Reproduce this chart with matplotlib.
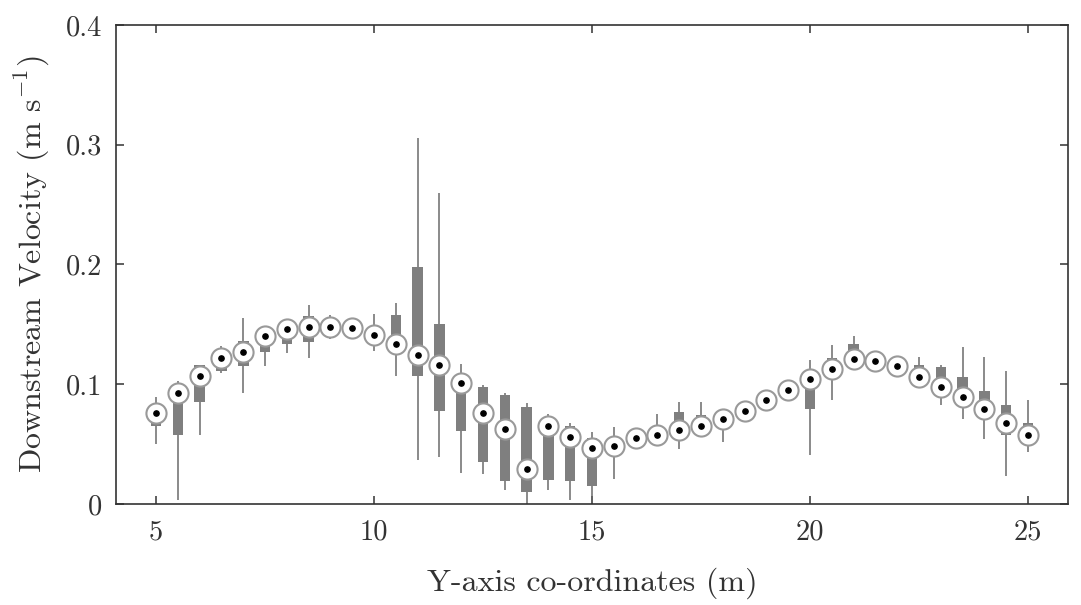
import numpy as np
import matplotlib
matplotlib.use('Agg')
import matplotlib.pyplot as plt

# cross-stream positions (m)
positions = [5.0, 5.5, 6.0, 6.5, 7.0, 7.5, 8.0, 8.5, 9.0, 9.5,
             10.0, 10.5, 11.0, 11.5, 12.0, 12.5, 13.0, 13.5, 14.0, 14.5,
             15.0, 15.5, 16.0, 16.5, 17.0, 17.5, 18.0, 18.5, 19.0, 19.5,
             20.0, 20.5, 21.0, 21.5, 22.0, 22.5, 23.0, 23.5, 24.0, 24.5, 25.0]

medians = [0.076, 0.093, 0.107, 0.122, 0.127, 0.140, 0.146, 0.148, 0.148, 0.147,
           0.141, 0.134, 0.124, 0.116, 0.101, 0.076, 0.063, 0.029, 0.065, 0.056,
           0.047, 0.048, 0.055, 0.058, 0.062, 0.065, 0.071, 0.078, 0.087, 0.095,
           0.104, 0.113, 0.121, 0.119, 0.115, 0.106, 0.098, 0.089, 0.079, 0.068, 0.058]

q1 = [0.065, 0.058, 0.085, 0.111, 0.115, 0.127, 0.134, 0.135, 0.144, 0.144,
      0.137, 0.130, 0.107, 0.078, 0.061, 0.035, 0.019, 0.010, 0.020, 0.019,
      0.015, 0.040, 0.052, 0.055, 0.058, 0.062, 0.063, 0.075, 0.084, 0.092,
      0.079, 0.110, 0.118, 0.116, 0.112, 0.102, 0.095, 0.085, 0.075, 0.058, 0.055]

q3 = [0.082, 0.095, 0.116, 0.125, 0.136, 0.142, 0.148, 0.157, 0.151, 0.149,
      0.144, 0.158, 0.198, 0.150, 0.102, 0.098, 0.091, 0.081, 0.066, 0.065,
      0.055, 0.050, 0.057, 0.060, 0.077, 0.074, 0.073, 0.080, 0.089, 0.097,
      0.105, 0.122, 0.134, 0.121, 0.117, 0.116, 0.114, 0.106, 0.094, 0.083, 0.068]

whisk_lo = [0.050, 0.003, 0.058, 0.109, 0.093, 0.115, 0.126, 0.122, 0.138, 0.141,
            0.128, 0.107, 0.037, 0.039, 0.026, 0.025, 0.012, 0.000, 0.012, 0.003,
            0.007, 0.021, 0.050, 0.048, 0.046, 0.057, 0.052, 0.072, 0.080, 0.088,
            0.041, 0.087, 0.117, 0.114, 0.110, 0.100, 0.083, 0.071, 0.054, 0.023, 0.043]

whisk_hi = [0.089, 0.103, 0.116, 0.132, 0.155, 0.148, 0.151, 0.166, 0.158, 0.152,
            0.159, 0.168, 0.306, 0.260, 0.117, 0.099, 0.093, 0.084, 0.075, 0.068,
            0.060, 0.064, 0.060, 0.075, 0.085, 0.085, 0.078, 0.084, 0.093, 0.101,
            0.120, 0.133, 0.140, 0.124, 0.120, 0.123, 0.116, 0.131, 0.123, 0.111, 0.087]

y_ticks = [0, 0.1, 0.2, 0.3, 0.4]
y_tick_labels = ['0', '0.1', '0.2', '0.3', '0.4']
x_ticks = [5, 10, 15, 20, 25]

plt.rcParams['font.family'] = ['cmr10', 'DejaVu Serif']
plt.rcParams['mathtext.fontset'] = 'cm'
plt.rcParams['axes.formatter.use_mathtext'] = True

fig = plt.figure(figsize=(10.81, 6.05), dpi=100)
ax = fig.add_axes([0.1073, 0.167, 0.8807, 0.7917])

box_col = '#7f7f7f'

# whiskers, then boxes, then median markers on top
ax.vlines(positions, whisk_lo, whisk_hi, color='#8a8a8a', lw=1.4, zorder=1)
heights = np.array(q3) - np.array(q1)
ax.bar(positions, heights, bottom=q1, width=0.24, color=box_col, zorder=2)
ax.plot(positions, medians, 'o', ms=14.5, mfc='white', mec='#999999', mew=1.5, zorder=3)
ax.plot(positions, medians, 'o', ms=3.8, color='black', zorder=4)

ax.set_xlim(4.08, 25.92)
ax.set_ylim(0, 0.4)
ax.set_xticks(x_ticks)
ax.set_xticklabels([str(t) for t in x_ticks])
ax.set_yticks(y_ticks)
ax.set_yticklabels(y_tick_labels)

ax.tick_params(direction='in', length=6, width=1.1, color='#333333',
               top=True, right=True, labelsize=20.5, labelcolor='#333333')
ax.tick_params(axis='x', pad=11)
ax.tick_params(axis='y', pad=10)
for s in ax.spines.values():
    s.set_color('#333333')
    s.set_linewidth(1.2)

ax.set_xlabel('Y-axis co-ordinates (m)', fontsize=23, labelpad=16, color='#333333')
ax.set_ylabel(r'Downstream Velocity (m s$^{-1}$)', fontsize=23, labelpad=10, color='#333333')

fig.savefig('out.png', dpi=100)
